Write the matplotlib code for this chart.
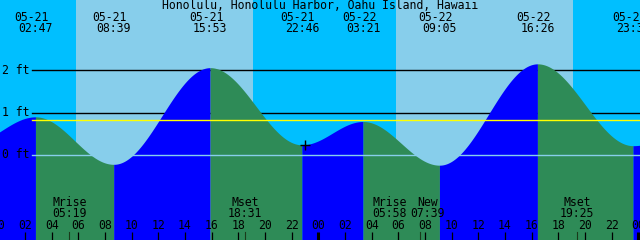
import numpy as np
import matplotlib
matplotlib.use("Agg")
import matplotlib.pyplot as plt
from matplotlib.transforms import blended_transform_factory

# ---------------- data ----------------
title = "Honolulu, Honolulu Harbor, Oahu Island, Hawaii"
tide_days = [0, 0, 0, 0, 1, 1, 1, 1]
tide_dates = ["05-21", "05-21", "05-21", "05-21", "05-22", "05-22", "05-22", "05-22"]
tide_times = ["02:47", "08:39", "15:53", "22:46", "03:21", "09:05", "16:26", "23:36"]
tide_heights = [0.90, -0.22, 2.06, 0.24, 0.79, -0.24, 2.15, 0.22]
# extremes just outside the visible window (hours from 05-21 00:00, ft)
prev_extreme_hour, prev_extreme_height = -2.3, 0.25
next_extreme_hour, next_extreme_height = 53.6, 0.80

sun_days = [0, 1]
sunrise_times = ["05:50", "05:50"]
sunset_times = ["19:06", "19:06"]

moon_events = ["Mrise", "Mset", "Mrise", "New", "Mset"]
moon_days = [0, 0, 1, 1, 1]
moon_times = ["05:19", "18:31", "05:58", "07:39", "19:25"]

ref_levels = [0, 1, 2]
ref_labels = ["0 ft", "1 ft", "2 ft"]
mean_level = 0.82
now_day, now_time = 0, "23:00"

hour_ticks = list(range(0, 50, 2))

# ---------------- helpers ----------------
def to_hours(day, hhmm):
    h, m = hhmm.split(":")
    return day * 24 + int(h) + int(m) / 60.0

PX_PER_H = 13.333
X0_PX = -1.67
def h_of_px(p):
    return (p - X0_PX) / PX_PER_H

W, H = 640, 240
fig = plt.figure(figsize=(6.4, 2.4), dpi=100)
ax = fig.add_axes([0, 0, 1, 1])
ax.set_axis_off()
FT_PX = 42.4
ZERO_PY = 155.0
ax.set_xlim(h_of_px(0), h_of_px(W))
ax.set_ylim(-(H - ZERO_PY) / FT_PX, ZERO_PY / FT_PX)
bt = blended_transform_factory(ax.transData, ax.transAxes)
def yf(py):
    return 1 - py / H

DAY = "#87CEEB"
NIGHT = "#00BFFF"
RISE = "#0000FF"
FALL = "#2E8B57"
FONT = dict(family="DejaVu Sans Mono", fontsize=8.3, color="black")

# background night/day
ax.axvspan(h_of_px(0), h_of_px(W), color=NIGHT, zorder=0, lw=0)
for d, sr, ss in zip(sun_days, sunrise_times, sunset_times):
    ax.axvspan(to_hours(d, sr), to_hours(d, ss), color=DAY, zorder=0.5, lw=0)

# reference lines behind the water
x_line_start = 32 / W
for lv in ref_levels:
    if lv != 0:
        ax.axhline(lv, xmin=x_line_start, xmax=1, color="black", lw=1.0, zorder=1)

# tide curve (cosine interpolation between extremes)
ext_h = [prev_extreme_hour] + [to_hours(d, t) for d, t in zip(tide_days, tide_times)] + [next_extreme_hour]
ext_v = [prev_extreme_height] + tide_heights + [next_extreme_height]
bottom = ax.get_ylim()[0]
for i in range(len(ext_h) - 1):
    t0, t1 = ext_h[i], ext_h[i + 1]
    v0, v1 = ext_v[i], ext_v[i + 1]
    t = np.linspace(t0, t1, 300)
    f = (t - t0) / (t1 - t0)
    v = v0 + (v1 - v0) * (1 - np.cos(np.pi * f)) / 2
    col = RISE if v1 > v0 else FALL
    ax.fill_between(t, bottom, v, color=col, lw=0, zorder=2)

# lines on top of the water
ax.axhline(0, xmin=x_line_start, xmax=1, color=DAY, lw=1.0, zorder=3)
ax.axhline(mean_level, xmin=x_line_start, xmax=1, color="#FFFF00", lw=1.0, zorder=3)
for lv, lab in zip(ref_levels, ref_labels):
    ax.text(h_of_px(1.5), lv, lab, ha="left", va="center", zorder=4, **FONT)

# "now" marker
nh = to_hours(now_day, now_time)
ax.plot([nh], [0.236], marker="+", color="black", ms=7, mew=1.0, zorder=4)

# title
ax.text(0.5, yf(5.5), title, transform=ax.transAxes, ha="center", va="center", zorder=5, **FONT)

# extreme labels
for d, ds, ts in zip(tide_days, tide_dates, tide_times):
    h = to_hours(d, ts)
    ax.text(h - 4 / PX_PER_H, yf(17.5), ds, transform=bt, ha="center", va="center", zorder=5, **FONT)
    ax.text(h, yf(29), ts, transform=bt, ha="center", va="center", zorder=5, **FONT)

# moon events
label_shift_px = [0, 0, -8, 7, 0]
for name, d, ts, sh in zip(moon_events, moon_days, moon_times, label_shift_px):
    h = to_hours(d, ts)
    hx = h + sh / PX_PER_H
    ax.text(hx, yf(202), name, transform=bt, ha="center", va="center", zorder=5, **FONT)
    ax.text(hx, yf(213.5), ts, transform=bt, ha="center", va="center", zorder=5, **FONT)
    ax.plot([h, h], [yf(232), yf(240)], transform=bt, color="#1a3a1a", lw=0.8, zorder=5)

# hour ticks
for h in hour_ticks:
    ax.text(h, yf(225.5), f"{h % 24:02d}", transform=bt, ha="center", va="center", zorder=5, **FONT)
    lw = 2.2 if h % 24 == 0 else 0.9
    ax.plot([h, h], [yf(232), yf(240)], transform=bt, color="black", lw=lw, zorder=5,
            solid_capstyle="butt")

fig.savefig("out.png", dpi=100)
